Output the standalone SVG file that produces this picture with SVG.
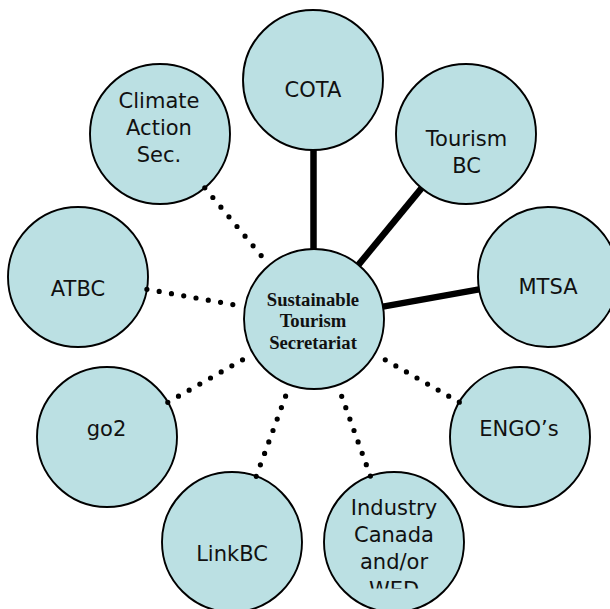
<svg xmlns="http://www.w3.org/2000/svg" width="610" height="609" viewBox="0 0 610 609">
  <style>
    .node { fill: #bbe0e3; stroke: #000; stroke-width: 1.9; }
    .lbl { font-family: "DejaVu Sans", Verdana, sans-serif; font-size: 21px; fill: #111; text-anchor: middle; }
    .hub { font-family: "Liberation Serif", "Times New Roman", serif; font-size: 18.67px; font-weight: bold; fill: #111; text-anchor: middle; }
    .solid { stroke: #000; stroke-width: 6.5; stroke-linecap: butt; fill: none; }
    .dots { stroke: #000; stroke-width: 5.2; stroke-linecap: round; stroke-dasharray: 0 1; fill: none; }
  </style>
  <defs>
    <clipPath id="clip-industry">
      <rect x="320" y="470" width="150" height="118.5"/>
    </clipPath>
  </defs>
  <rect width="610" height="609" fill="#fff"/>

  <g id="hub">
    <circle class="node" cx="314" cy="319" r="70"/>
    <text class="hub" x="313" y="306">Sustainable</text>
    <text class="hub" x="313" y="327.3">Tourism</text>
    <text class="hub" x="313" y="348.5">Secretariat</text>
  </g>

  <g id="cota">
    <circle class="node" cx="313" cy="80" r="70"/>
    <text class="lbl" x="313" y="97">COTA</text>
  </g>

  <g id="tourism-bc">
    <circle class="node" cx="466" cy="134" r="70"/>
    <text class="lbl" x="466.5" y="146">Tourism</text>
    <text class="lbl" x="466.5" y="172.5">BC</text>
  </g>

  <g id="mtsa">
    <circle class="node" cx="548" cy="277" r="70"/>
    <text class="lbl" x="548" y="294">MTSA</text>
  </g>

  <g id="engos">
    <circle class="node" cx="520" cy="437" r="70"/>
    <text class="lbl" x="519" y="436">ENGO’s</text>
  </g>

  <g id="industry-canada">
    <circle class="node" cx="394" cy="542" r="70"/>
    <g clip-path="url(#clip-industry)">
      <text class="lbl" x="394" y="515">Industry</text>
      <text class="lbl" x="394" y="542">Canada</text>
      <text class="lbl" x="394" y="569">and/or</text>
      <text class="lbl" x="394" y="596.5">WED</text>
    </g>
  </g>

  <g id="linkbc">
    <circle class="node" cx="232" cy="542" r="70"/>
    <text class="lbl" x="232" y="560.5">LinkBC</text>
  </g>

  <g id="go2">
    <circle class="node" cx="107" cy="437" r="70"/>
    <text class="lbl" x="106.5" y="436">go2</text>
  </g>

  <g id="atbc">
    <circle class="node" cx="78" cy="277" r="70"/>
    <text class="lbl" x="78" y="296">ATBC</text>
  </g>

  <g id="climate-action">
    <circle class="node" cx="160" cy="134" r="70"/>
    <text class="lbl" x="159" y="108.3">Climate</text>
    <text class="lbl" x="159" y="135">Action</text>
    <text class="lbl" x="159" y="161.7">Sec.</text>
  </g>

  <g id="connectors">
    <!-- strong links -->
    <line class="solid" x1="313.5" y1="150" x2="313.5" y2="249"/>
    <line class="solid" x1="421.6" y1="188.1" x2="358.4" y2="264.9"/>
    <line class="solid" x1="479.1" y1="289.4" x2="382.9" y2="306.6"/>
    <!-- loose links: nine dots between circle edges -->
    <line class="dots" pathLength="8" x1="204.8" y1="187.8" x2="269.2" y2="265.2"/>
    <line class="dots" pathLength="8" x1="146.9" y1="289.3" x2="245.1" y2="306.7"/>
    <line class="dots" pathLength="8" x1="167.8" y1="402.3" x2="253.2" y2="353.7"/>
    <line class="dots" pathLength="8" x1="256.2" y1="476.3" x2="289.8" y2="384.7"/>
    <line class="dots" pathLength="8" x1="370.4" y1="476.1" x2="337.6" y2="384.9"/>
    <line class="dots" pathLength="8" x1="459.3" y1="402.2" x2="374.7" y2="353.8"/>
  </g>
</svg>
